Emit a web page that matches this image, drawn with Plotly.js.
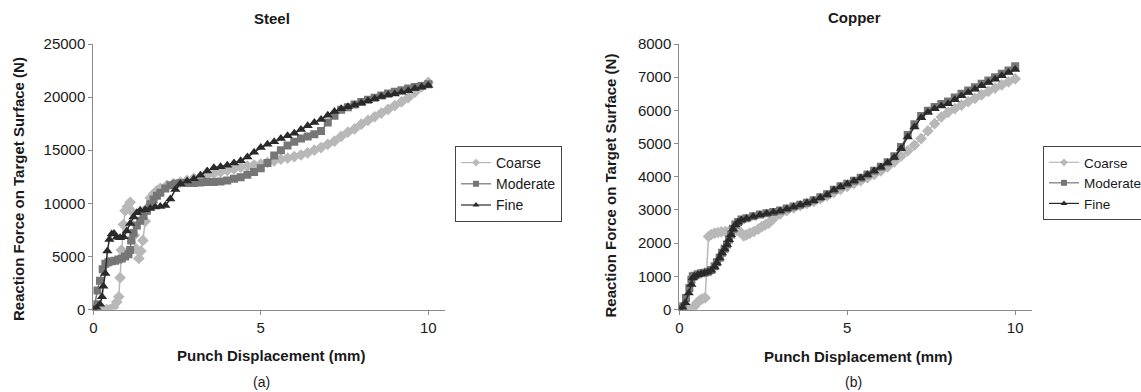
<!DOCTYPE html>
<html>
<head>
<meta charset="utf-8">
<script src="https://cdn.plot.ly/plotly-3.0.1.min.js"></script>
<style>html,body{margin:0;padding:0;background:#fff;}#chart{width:1141px;height:392px;}</style>
</head>
<body>
<div id="chart"></div>
<script>
// ---------- Steel (a) ----------
const steelCoarseX = [0,0.1,0.2,0.3,0.4,0.5,0.6,0.7,0.76,0.8,0.84,0.9,0.95,1.02,1.1,1.16,1.22,1.28,1.36,1.42,1.48,1.55,1.62,1.7,1.8,1.9,2.0,2.2,2.4,2.6,2.8,3.0,3.2,3.4,3.6,3.8,4.0,4.2,4.4,4.6,4.8,5.0,5.2,5.4,5.6,5.8,6.0,6.2,6.4,6.6,6.8,7.0,7.2,7.4,7.6,7.8,8.0,8.2,8.4,8.6,8.8,9.0,9.2,9.4,9.6,9.8,10.0];
const steelCoarseY = [0,0,0,0,0,0,200,700,1200,3000,5600,8000,9300,9700,10100,9200,7000,5700,4800,5500,6500,8300,9600,10500,10900,11200,11400,11700,11850,12000,12150,12350,12500,12650,12800,12950,13100,13250,13400,13500,13600,13700,13850,14000,14150,14250,14400,14550,14750,15000,15250,15550,15850,16300,16700,17000,17450,17800,18150,18500,18850,19200,19550,19950,20450,20950,21400];

const steelModerateX = [0,0.05,0.12,0.2,0.28,0.36,0.45,0.55,0.65,0.75,0.85,0.95,1.05,1.1,1.13,1.2,1.3,1.4,1.5,1.6,1.7,1.8,1.9,2.0,2.15,2.3,2.45,2.6,2.8,3.0,3.2,3.4,3.6,3.8,4.0,4.2,4.4,4.6,4.8,5.0,5.2,5.4,5.6,5.8,6.0,6.2,6.4,6.6,6.8,7.0,7.2,7.4,7.6,7.8,8.0,8.2,8.4,8.6,8.8,9.0,9.2,9.4,9.6,9.8,10.0];
const steelModerateY = [0,500,1800,2700,3800,4300,4450,4550,4600,4700,4800,5000,5200,5600,6500,7200,7900,8350,8800,9300,9900,10350,10700,11000,11400,11700,11850,11900,11900,11900,11950,12000,12000,12050,12150,12300,12450,12700,12950,13300,13800,14500,15000,15450,15800,16100,16300,16500,16800,17600,18250,18800,19050,19300,19550,19750,19950,20150,20350,20500,20650,20800,20950,21050,21200];

const steelFineX = [0,0.1,0.2,0.26,0.3,0.36,0.42,0.48,0.55,0.62,0.7,0.8,0.9,1.0,1.1,1.2,1.3,1.4,1.55,1.7,1.85,2.0,2.15,2.3,2.45,2.6,2.8,3.0,3.2,3.4,3.6,3.8,4.0,4.2,4.4,4.6,4.8,5.0,5.2,5.4,5.6,5.8,6.0,6.2,6.4,6.6,6.8,7.0,7.2,7.4,7.6,7.8,8.0,8.2,8.4,8.6,8.8,9.0,9.2,9.4,9.6,9.8,10.0];
const steelFineY = [0,150,500,1200,2200,3400,5500,6600,7100,7150,6800,6750,6850,7400,8100,8700,9100,9350,9400,9500,9650,9700,9800,10400,11300,11850,12100,12300,12650,13050,13350,13450,13580,13800,14000,14350,14800,15250,15550,15800,16100,16350,16600,16950,17300,17600,17900,18300,18650,18900,19100,19250,19450,19650,19850,20050,20200,20300,20450,20600,20800,20950,21100];

// ---------- Copper (b) ----------
const copperCoarseX = [0,0.1,0.2,0.3,0.38,0.45,0.53,0.6,0.68,0.77,0.87,0.95,1.05,1.15,1.25,1.37,1.5,1.62,1.72,1.82,1.92,2.0,2.1,2.22,2.35,2.46,2.56,2.66,2.76,2.86,3.0,3.2,3.4,3.6,3.8,4.0,4.2,4.4,4.6,4.8,5.0,5.2,5.4,5.6,5.8,6.0,6.2,6.4,6.6,6.8,7.0,7.2,7.4,7.6,7.8,8.0,8.2,8.4,8.6,8.8,9.0,9.2,9.4,9.6,9.8,10.0];
const copperCoarseY = [0,0,0,0,0,100,200,270,320,350,2200,2260,2300,2320,2340,2350,2380,2400,2380,2330,2220,2250,2300,2350,2420,2500,2550,2600,2700,2800,2880,2980,3060,3130,3200,3260,3340,3430,3530,3620,3710,3800,3880,3970,4070,4180,4300,4450,4620,4780,4950,5150,5380,5600,5800,5940,6050,6160,6260,6360,6470,6570,6670,6770,6860,6950];

const copperModerateX = [0,0.1,0.2,0.3,0.36,0.4,0.45,0.55,0.65,0.75,0.85,0.95,1.05,1.12,1.2,1.27,1.35,1.42,1.48,1.54,1.6,1.67,1.75,1.85,2.0,2.2,2.4,2.6,2.8,3.0,3.2,3.4,3.6,3.8,4.0,4.2,4.4,4.6,4.8,5.0,5.2,5.4,5.6,5.8,6.0,6.2,6.4,6.6,6.8,7.0,7.2,7.4,7.6,7.8,8.0,8.2,8.4,8.6,8.8,9.0,9.2,9.4,9.6,9.8,10.0];
const copperModerateY = [0,100,350,650,900,1000,1020,1060,1090,1110,1140,1190,1300,1420,1560,1710,1830,1960,2110,2260,2430,2560,2640,2710,2750,2810,2860,2900,2940,2980,3040,3100,3160,3220,3290,3380,3470,3610,3710,3790,3880,3970,4070,4180,4300,4440,4620,4900,5260,5580,5830,5990,6100,6190,6270,6390,6500,6600,6700,6800,6900,7000,7100,7200,7330];

const copperFineX = [0,0.1,0.18,0.28,0.36,0.4,0.45,0.55,0.65,0.75,0.85,0.95,1.05,1.12,1.2,1.27,1.35,1.42,1.48,1.54,1.6,1.67,1.75,1.85,2.0,2.2,2.4,2.6,2.8,3.0,3.2,3.4,3.6,3.8,4.0,4.2,4.4,4.6,4.8,5.0,5.2,5.4,5.6,5.8,6.0,6.2,6.4,6.6,6.8,7.0,7.2,7.4,7.6,7.8,8.0,8.2,8.4,8.6,8.8,9.0,9.2,9.4,9.6,9.8,10.0];
const copperFineY = [0,50,200,500,750,950,1000,1050,1080,1100,1130,1180,1280,1400,1550,1700,1820,1950,2100,2250,2420,2550,2630,2700,2740,2800,2850,2890,2930,2970,3030,3090,3150,3210,3280,3370,3460,3600,3700,3780,3870,3960,4060,4170,4290,4420,4580,4850,5200,5500,5780,5940,6050,6130,6200,6320,6440,6540,6640,6740,6840,6940,7040,7140,7230];

const seriesNames = ['Coarse','Moderate','Fine'];
const seriesColors = ['#b8b8b8','#767676','#2a2a2a'];
const seriesSymbols = ['diamond','square','triangle-up'];

const xTickVals = [0,5,10];
const steelYTicks = [0,5000,10000,15000,20000,25000];
const copperYTicks = [0,1000,2000,3000,4000,5000,6000,7000,8000];

const panelTitles = ['Steel','Copper'];
const panelLabels = ['(a)','(b)'];
const xTitle = 'Punch Displacement (mm)';
const yTitle = 'Reaction Force on Target Surface (N)';

const FONT = 'Liberation Sans, Arial, sans-serif';
const W = 1141, H = 392;

const steelData = [[steelCoarseX,steelCoarseY],[steelModerateX,steelModerateY],[steelFineX,steelFineY]];
const copperData = [[copperCoarseX,copperCoarseY],[copperModerateX,copperModerateY],[copperFineX,copperFineY]];

const markerSizes = [9, 8, 9];
const traces = [];
function addPanel(data, xa, ya, leg) {
  data.forEach((d,i)=>{
    traces.push({x:d[0], y:d[1], type:'scatter', mode:'lines+markers', name:seriesNames[i],
      xaxis:xa, yaxis:ya, showlegend:false,
      line:{color:seriesColors[i], width:1.5},
      marker:{symbol:seriesSymbols[i], color:seriesColors[i], size:markerSizes[i]}});
  });
  // legend entries (no data drawn)
  data.forEach((d,i)=>{
    traces.push({x:[null], y:[null], type:'scatter', mode:'lines+markers', name:seriesNames[i],
      xaxis:xa, yaxis:ya, legend:leg, showlegend:true,
      line:{color:seriesColors[i], width:1.2},
      marker:{symbol:seriesSymbols[i], color:seriesColors[i], size:6}});
  });
}
addPanel(steelData, 'x', 'y', 'legend');
addPanel(copperData, 'x2', 'y2', 'legend2');

const px = v => v / W;
const py = v => (H - v) / H;

const axisCommon = {
  showgrid:false, zeroline:false, showline:true, linecolor:'#8a8a8a', linewidth:1,
  ticks:'outside', ticklen:4, tickcolor:'#8a8a8a', tickwidth:1, tickformat:'d',
  tickfont:{family:FONT, size:15, color:'#1a1a1a'}, fixedrange:true
};

const yDom = [py(309.5), py(44)];

const layout = {
  width:W, height:H,
  margin:{l:0,r:0,t:0,b:0, autoexpand:false},
  paper_bgcolor:'#fff', plot_bgcolor:'#fff',
  font:{family:FONT, color:'#1a1a1a'},
  xaxis:Object.assign({}, axisCommon, {domain:[px(93.3), px(445)], range:[0,10.5], tickvals:xTickVals, anchor:'y'}),
  yaxis:Object.assign({}, axisCommon, {domain:yDom, range:[0,25000], tickvals:steelYTicks, anchor:'x'}),
  xaxis2:Object.assign({}, axisCommon, {domain:[px(679.3), px(1032)], range:[0,10.5], tickvals:xTickVals, anchor:'y2'}),
  yaxis2:Object.assign({}, axisCommon, {domain:yDom, range:[0,8000], tickvals:copperYTicks, anchor:'x2'}),
  legend:{x:px(455), y:py(146), xanchor:'left', yanchor:'top', bordercolor:'#444', borderwidth:1,
    font:{family:FONT, size:14, color:'#1a1a1a'}, bgcolor:'#fff', tracegroupgap:0},
  legend2:{x:px(1043), y:py(146), xanchor:'left', yanchor:'top', bordercolor:'#444', borderwidth:1,
    font:{family:FONT, size:13.5, color:'#1a1a1a'}, bgcolor:'#fff', tracegroupgap:0},
  showlegend:true,
  annotations:[
    {text:'<b>'+panelTitles[0]+'</b>', x:px(271.7), y:py(18), xref:'paper', yref:'paper', showarrow:false, xanchor:'center', yanchor:'middle', font:{family:FONT,size:15,color:'#1a1a1a'}},
    {text:'<b>'+panelTitles[1]+'</b>', x:px(854), y:py(17.5), xref:'paper', yref:'paper', showarrow:false, xanchor:'center', yanchor:'middle', font:{family:FONT,size:15,color:'#1a1a1a'}},
    {text:'<b>'+xTitle+'</b>', x:px(270.7), y:py(355), xref:'paper', yref:'paper', showarrow:false, xanchor:'center', yanchor:'middle', font:{family:FONT,size:15,color:'#1a1a1a'}},
    {text:'<b>'+xTitle+'</b>', x:px(858), y:py(356), xref:'paper', yref:'paper', showarrow:false, xanchor:'center', yanchor:'middle', font:{family:FONT,size:15,color:'#1a1a1a'}},
    {text:'<b>'+yTitle+'</b>', x:px(18.3), y:py(188.7), xref:'paper', yref:'paper', showarrow:false, xanchor:'center', yanchor:'middle', textangle:-90, font:{family:FONT,size:15,color:'#1a1a1a'}},
    {text:'<b>'+yTitle+'</b>', x:px(610.7), y:py(185.8), xref:'paper', yref:'paper', showarrow:false, xanchor:'center', yanchor:'middle', textangle:-90, font:{family:FONT,size:15,color:'#1a1a1a'}},
    {text:panelLabels[0], x:px(261.7), y:py(381.7), xref:'paper', yref:'paper', showarrow:false, xanchor:'center', yanchor:'middle', font:{family:FONT,size:14,color:'#1a1a1a'}},
    {text:panelLabels[1], x:px(853.3), y:py(381.7), xref:'paper', yref:'paper', showarrow:false, xanchor:'center', yanchor:'middle', font:{family:FONT,size:14,color:'#1a1a1a'}}
  ]
};

Plotly.newPlot('chart', traces, layout, {displayModeBar:false, staticPlot:true});
</script>
</body>
</html>
